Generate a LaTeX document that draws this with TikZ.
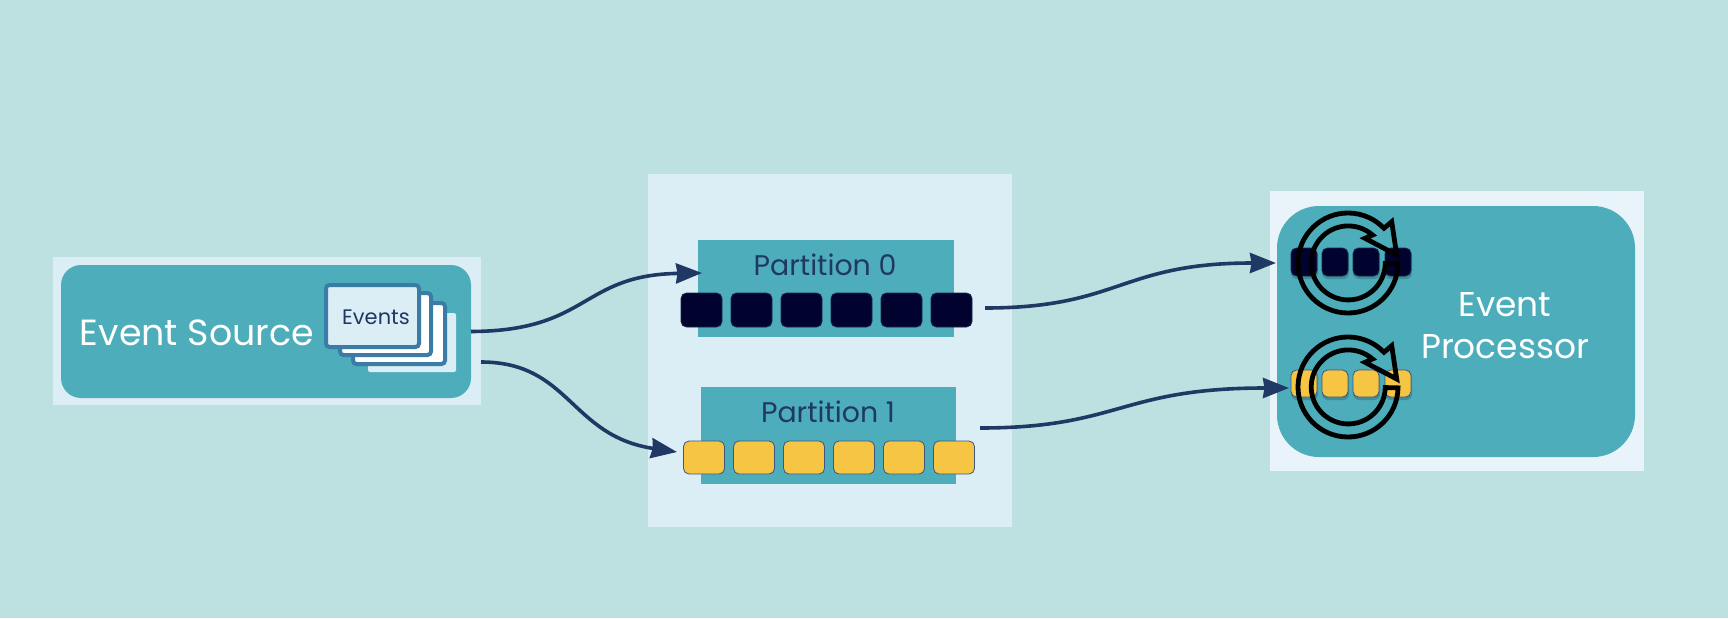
\documentclass[tikz,border=0pt]{standalone}
\usepackage{fontspec}
\setmainfont{Poppins}
\usetikzlibrary{arrows.meta}
\definecolor{bgc}{HTML}{BDE0E1}
\definecolor{panelc}{HTML}{DCEEF5}
\definecolor{panelb}{HTML}{E8F4FA}
\definecolor{tealc}{HTML}{4DADBA}
\definecolor{navyc}{HTML}{1F3864}
\definecolor{inkc}{HTML}{02022E}
\definecolor{yelc}{HTML}{F7C544}
\definecolor{cardb}{HTML}{3A7CA5}
\tikzset{
  boxat/.style n args={4}{minimum width=#3-#1,minimum height=#4-#2,anchor=north west,inner sep=0pt,outer sep=0pt},
  panel/.style={fill=panelc,draw=none},
  tealbox/.style={fill=tealc,draw=none},
  cell/.style={rounded corners=5.5pt,inner sep=0pt,outer sep=0pt,anchor=north west,line width=0.8pt},
  navycell/.style={cell,fill=inkc,draw=navyc!70!black},
  yelcell/.style={cell,fill=yelc,draw=navyc!85!white},
  cellshade/.style={fill=black,opacity=0.18,rounded corners=6pt,inner sep=0pt,outer sep=0pt,anchor=north west},
  card/.style={fill=white,draw=cardb,line width=4pt,rounded corners=3.5pt,anchor=north west,inner sep=0pt,outer sep=0pt},
  flow/.style={draw=navyc,line width=3.6pt,-{Stealth[length=26pt,width=20pt,inset=1.5pt]}},
  lab/.style={inner sep=0pt,outer sep=0pt,align=center},
}
\begin{document}
\begin{tikzpicture}[x=1pt,y=-1pt]
\useasboundingbox (0,0) rectangle (1728,618);
\fill[bgc] (0,0) rectangle (1728,618);

% panels
\node[panel,boxat={53}{257}{481}{405}] (srcpanel) at (53,257) {};
\node[panel,boxat={648}{174}{1012}{527}] (midpanel) at (648,174) {};
\node[fill=panelb,boxat={1270}{191}{1644}{471}] (procpanel) at (1270,191) {};

% source
\node[tealbox,rounded corners=20pt,boxat={61}{265}{471}{398}] (srcbox) at (61,265) {};
\node[lab,text=white,font=\fontsize{36.4}{42}\selectfont] (srctext) at (197,333) {Event Source};
\node[fill=panelc,rounded corners=2pt,boxat={368}{313}{456}{372}] (card4) at (368,313) {};
\node[card,minimum width=92pt,minimum height=61pt] (card3) at (353,303) {};
\node[card,minimum width=91pt,minimum height=62pt] (card2) at (340,293) {};
\node[card,fill=panelc,minimum width=93pt,minimum height=62pt] (card1) at (326,285) {};
\node[lab,text=navyc,font=\fontsize{21}{26}\selectfont] (evt) at (376,317) {Events};

% partitions
\node[tealbox,boxat={698}{240}{954}{337}] (p0) at (698,240) {};
\node[lab,text=navyc,font=\fontsize{28.4}{32}\selectfont] (p0t) at (825,265) {Partition 0};
\node[tealbox,boxat={701}{387}{956}{484}] (p1) at (701,387) {};
\node[lab,text=navyc,font=\fontsize{28.4}{32}\selectfont] (p1t) at (828,412) {Partition 1};
\foreach \i in {0,...,5}{
  \node[navycell,minimum width=41pt,minimum height=34pt] (a\i) at ({681+50*\i},293) {};
  \node[yelcell,minimum width=41pt,minimum height=33pt] (b\i) at ({683.5+50*\i},441) {};
}

% processor
\node[tealbox,rounded corners=42pt,boxat={1277}{206}{1635}{457}] (proc) at (1277,206) {};
\node[lab,text=white,font=\fontsize{34.4}{42}\selectfont] (proct) at (1505,326) {Event\\Processor};
\foreach \i/\xx in {0/1291,1/1322,2/1353,3/1385}{
  \node[cellshade,minimum width=27pt,minimum height=30pt] (cs\i) at (\xx,249) {};
  \node[cellshade,minimum width=27pt,minimum height=29pt] (ds\i) at (\xx,371) {};
  \node[navycell,minimum width=26pt,minimum height=28pt] (c\i) at (\xx,248) {};
  \node[yelcell,minimum width=26pt,minimum height=27pt] (d\i) at (\xx,370) {};
}
\foreach \yy in {263,387}{
\begin{scope}[shift={(1348,\yy)},y=1pt]
  \draw[black,line width=4.8pt,line join=miter]
    (-1:50) arc[start angle=-1,end angle=-316,radius=50]
    -- (43.7,41.3) -- (48.7,8) -- (17,24.7) -- (24.5,28)
    arc[start angle=49,end angle=359,radius=37] -- cycle;
\end{scope}}

% connectors
\coordinate (s1) at (srcbox.east);
\coordinate (s2) at (481,362);
\coordinate (e1) at (702,273);
\coordinate (e2) at (677,452);
\coordinate (s3) at (985,308);
\coordinate (e3) at (1276,263);
\coordinate (s4) at (980,428);
\coordinate (e4) at (1289,388);
\draw[flow] (s1) .. controls (590,331) and (580,275) .. (e1);
\draw[flow] (s2) .. controls (570,362) and (570,436) .. (e2);
\draw[flow] (s3) .. controls (1120,308) and (1120,263) .. (e3);
\draw[flow] (s4) .. controls (1120,428) and (1120,388) .. (e4);
\end{tikzpicture}
\end{document}
